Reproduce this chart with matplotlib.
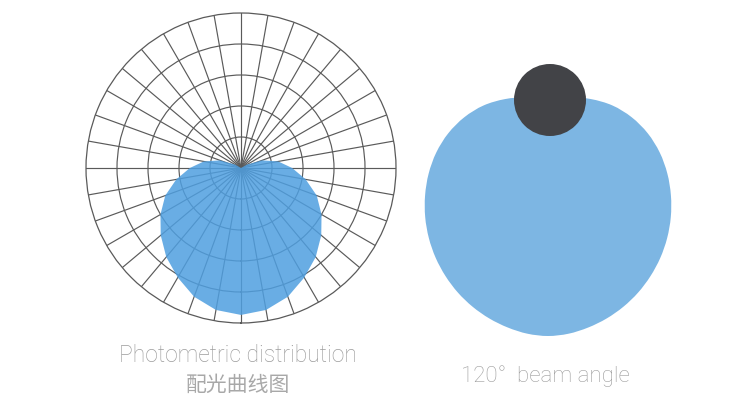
import numpy as np
import matplotlib.pyplot as plt
from matplotlib.patches import PathPatch, Circle
from matplotlib.path import Path

# Photometric curve (half profile, mirrored) - angle from nadir in degrees, radius in grid rings
curve_deg = np.array([0, 10, 20, 30, 40, 50, 60, 70, 80, 90, 100, 110, 120, 130, 180])
curve_r = np.array([4.74, 4.65, 4.42, 4.08, 3.75, 3.38, 3.0, 2.6, 2.12, 1.65, 1.22, 0.72, 0.22, 0.0, 0.0])
ring_values = [1, 2, 3, 4]
spoke_step = 10

# 120 degree beam outline: radius (px) around its centre, angle from top, half profile
beam_deg = np.arange(0, 190, 10)
beam_r = np.array([120, 121.8, 125.5, 128.8, 130.2, 130.2, 129, 127, 124.8, 122.8,
                   121, 119.5, 118.3, 117.6, 117.2, 117.2, 117.6, 118.5, 119])
beam_center = (548, 217)
lamp_center = (550, 100)
lamp_radius = 36

titles_left = ["Photometric distribution", "配光曲线图"]
title_right = "120°  beam angle"

grid_col = "#5a5a5a"
blob_col = "#4f9fe0"
beam_col = "#7db6e3"
lamp_col = "#424347"
text_col = "#9c9c9c"


def smooth_closed_path(p):
    # closed Catmull-Rom outline drawn as cubic Bezier segments
    n = len(p)
    verts = [p[0]]
    codes = [Path.MOVETO]
    for i in range(n):
        p0, p1, p2, p3 = p[i - 1], p[i], p[(i + 1) % n], p[(i + 2) % n]
        verts += [p1 + (p2 - p0) / 6, p2 - (p3 - p1) / 6, p2]
        codes += [Path.CURVE4] * 3
    return Path(np.array(verts), codes)


fig = plt.figure(figsize=(7.5, 4), dpi=100)

# canvas axes in pixel coordinates for the right figure and texts
cv = fig.add_axes([0, 0, 1, 1])
cv.set_xlim(0, 750)
cv.set_ylim(400, 0)
cv.axis("off")

ang = np.deg2rad(np.concatenate([beam_deg, 360 - beam_deg[-2:0:-1]]))
br = np.concatenate([beam_r, beam_r[-2:0:-1]])
pts = np.column_stack([beam_center[0] + br * np.sin(ang), beam_center[1] - br * np.cos(ang)])
cv.add_patch(PathPatch(smooth_closed_path(pts), color=beam_col, lw=0))
cv.add_patch(Circle(lamp_center, lamp_radius, color=lamp_col, lw=0))

fam = ["Roboto", "Noto Sans CJK SC", "DejaVu Sans"]
cv.text(238, 356, titles_left[0], ha="center", va="center", fontsize=16.5,
        color=text_col, family=fam, fontweight="light")
cv.text(238, 385, titles_left[1], ha="center", va="center", fontsize=15,
        color="#a8a8a8", family=["Noto Sans CJK SC", "DejaVu Sans"], fontweight="light")
cv.text(545, 376, title_right, ha="center", va="center", fontsize=16,
        color=text_col, family=fam, fontweight="light")

# polar grid on the left
cx, cy, R = 241, 168, 155
ax = fig.add_axes([(cx - R) / 750, (400 - cy - R) / 400, 2 * R / 750, 2 * R / 400],
                  projection="polar")
ax.set_theta_zero_location("S")
ax.set_rlim(0, 5)
ax.set_thetagrids(np.arange(0, 360, spoke_step), labels=[])
ax.set_rgrids(ring_values, labels=[])
ax.grid(True, color=grid_col, lw=0.85)
ax.spines["polar"].set_color(grid_col)
ax.spines["polar"].set_linewidth(0.9)
ax.patch.set_alpha(0)

theta = np.deg2rad(np.concatenate([curve_deg, 360 - curve_deg[::-1]]))
rr = np.concatenate([curve_r, curve_r[::-1]])
ax.fill(theta, rr, color=blob_col, alpha=0.85, lw=0, zorder=3)

fig.savefig("out.png", dpi=100)
